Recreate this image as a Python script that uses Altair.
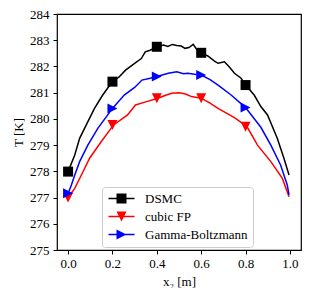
import altair as alt
import pandas as pd

# ---- data ----
dsmc_x = [0.0, 0.03, 0.052, 0.082, 0.119, 0.156, 0.2, 0.23, 0.259, 0.30, 0.33, 0.348, 0.37, 0.40,
          0.43, 0.45, 0.47, 0.49, 0.51, 0.527, 0.545, 0.564, 0.58, 0.60, 0.63, 0.66, 0.676, 0.705,
          0.73, 0.75, 0.78, 0.80, 0.839, 0.869, 0.899, 0.943, 0.973, 0.996]
dsmc_T = [277.99, 278.62, 279.26, 279.77, 280.40, 280.91, 281.42, 281.60, 281.86, 282.12, 282.30,
          282.56, 282.62, 282.75, 282.82, 282.76, 282.84, 282.80, 282.78, 282.69, 282.72, 282.84,
          282.65, 282.52, 282.40, 282.20, 282.12, 282.18, 281.95, 281.74, 281.55, 281.29, 280.91,
          280.47, 280.15, 279.26, 278.50, 277.86]

fp_x = [0.0, 0.03, 0.06, 0.097, 0.149, 0.205, 0.268, 0.304, 0.35, 0.405, 0.44, 0.467, 0.5, 0.53,
        0.556, 0.60, 0.64, 0.676, 0.75, 0.807, 0.854, 0.914, 0.966, 0.996]
fp_T = [277.00, 277.35, 277.86, 278.50, 279.13, 279.77, 280.15, 280.53, 280.65, 280.79, 280.90,
        280.98, 281.00, 280.95, 280.85, 280.79, 280.60, 280.40, 280.05, 279.70, 279.00, 278.37,
        277.73, 277.03]

gb_x = [0.0, 0.015, 0.03, 0.052, 0.089, 0.134, 0.2, 0.253, 0.30, 0.333, 0.37, 0.40, 0.452, 0.49,
        0.52, 0.54, 0.57, 0.60, 0.64, 0.676, 0.735, 0.80, 0.869, 0.914, 0.958, 0.988, 0.996]
gb_T = [277.16, 277.48, 277.86, 278.37, 279.00, 279.64, 280.40, 280.91, 281.20, 281.48, 281.55,
        281.62, 281.74, 281.80, 281.72, 281.74, 281.70, 281.67, 281.50, 281.29, 280.91, 280.43,
        279.68, 279.00, 278.24, 277.48, 277.10]

marker_x = [0.0, 0.2, 0.4, 0.6, 0.8]
dsmc_m = [277.99, 281.42, 282.75, 282.52, 281.29]
fp_m = [277.00, 279.77, 280.79, 280.79, 279.70]
gb_m = [277.16, 280.40, 281.62, 281.67, 280.43]

series_names = ["DSMC", "cubic FP", "Gamma-Boltzmann"]
series_colors = ["black", "red", "blue"]
marker_paths = ["M-1,-1H1V1H-1Z", "M-1,-1H1L0,1Z", "M-1,-1L1,0L-1,1Z"]
legend_paths = ["M-2.6,-0.15H2.6V0.15H-2.6Z " + p for p in marker_paths]

x_ticks = [0.0, 0.2, 0.4, 0.6, 0.8, 1.0]
y_ticks = [275, 276, 277, 278, 279, 280, 281, 282, 283, 284]

FONT = "Liberation Serif, DejaVu Serif, serif"

xs = alt.Scale(domain=[-0.05, 1.05], nice=False, zero=False)
ys = alt.Scale(domain=[275, 284], nice=False, zero=False)

x_axis = alt.Axis(values=x_ticks, format=".1f", title="x₂ [m]", grid=False, domain=False,
                  tickSize=4, tickColor="black", labelPadding=3, labelColor="black",
                  labelFont=FONT, labelFontSize=13, labelOverlap=False,
                  titleFont=FONT, titleFontSize=13,
                  titleFontWeight="normal", titleColor="black", titlePadding=5)
y_axis = alt.Axis(values=y_ticks, format="d", title="T [K]", grid=False, domain=False,
                  tickSize=4, tickColor="black", labelPadding=4, labelColor="black",
                  labelFont=FONT, labelFontSize=13, labelOverlap=False,
                  titleFont=FONT, titleFontSize=13,
                  titleFontWeight="normal", titleColor="black", titlePadding=4)

X = alt.X("x:Q", scale=xs, axis=x_axis)
Y = alt.Y("T:Q", scale=ys, axis=y_axis)

series_data = [(dsmc_x, dsmc_T, dsmc_m), (fp_x, fp_T, fp_m), (gb_x, gb_T, gb_m)]

layers = []
for i, (sx, sT, sm) in enumerate(series_data):
    dline = pd.DataFrame({"x": sx, "T": sT})
    dmark = pd.DataFrame({"x": marker_x, "T": sm})
    line = alt.Chart(dline).mark_line(color=series_colors[i], strokeWidth=1.5).encode(x=X, y=Y)
    pts = alt.Chart(dmark).mark_point(shape=marker_paths[i], filled=True, size=100,
                                      color=series_colors[i], opacity=1, strokeWidth=0).encode(x=X, y=Y)
    layers += [line, pts]

leg_df = pd.DataFrame({"x": marker_x[:3], "T": dsmc_m[:3], "series": series_names})
leg = alt.Legend(title=None, orient="none", legendX=45, legendY=173, padding=5,
                 fillColor="white", strokeColor="#cccccc", cornerRadius=3,
                 symbolSize=100, symbolStrokeWidth=0, symbolOffset=8, labelOffset=17,
                 labelFont=FONT, labelFontSize=13, labelColor="black", rowPadding=4,
                 symbolOpacity=1)
legend_layer = alt.Chart(leg_df).transform_filter("datum.series == 'none'").mark_point(
    filled=True, size=100, opacity=1).encode(
    x=X, y=Y,
    color=alt.Color("series:N", scale=alt.Scale(domain=series_names, range=series_colors), legend=leg),
    shape=alt.Shape("series:N", scale=alt.Scale(domain=series_names, range=legend_paths), legend=leg),
)
layers.append(legend_layer)

chart = alt.layer(*layers).properties(
    width=244, height=236,
    padding={"left": 49, "top": 6, "right": 2, "bottom": 38},
    autosize=alt.AutoSizeParams(type="none"),
).configure_view(stroke="black", strokeWidth=1.2).configure_axis(labelOverlap=False)

chart.save("out.html", embed_options={"renderer": "svg", "actions": False})
